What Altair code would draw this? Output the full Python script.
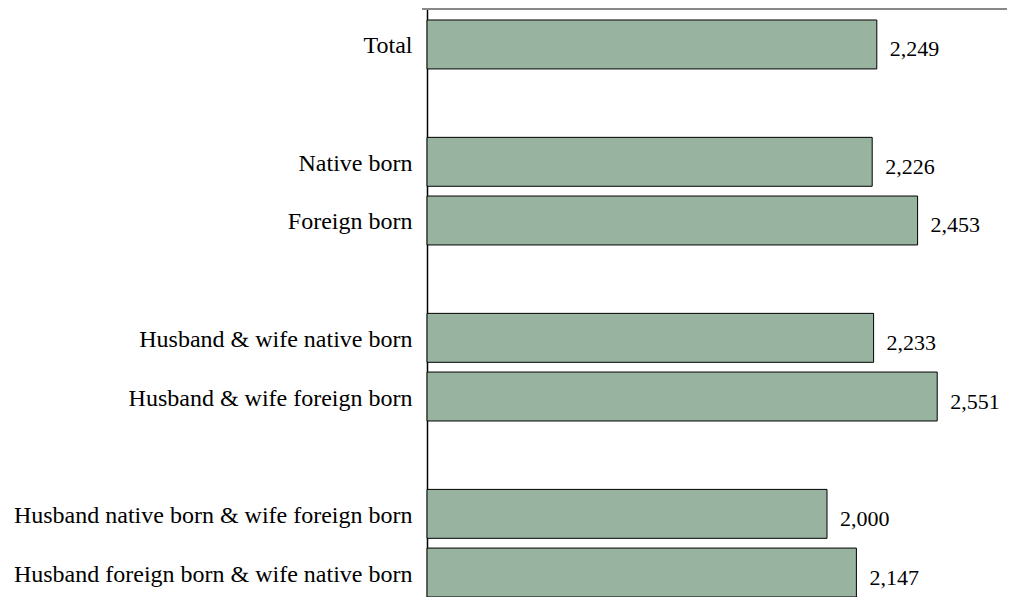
import altair as alt
import pandas as pd

# Categories in display order (blank entries are the gaps between groups)
order = [
    "Total",
    " ",
    "Native born",
    "Foreign born",
    "  ",
    "Husband & wife native born",
    "Husband & wife foreign born",
    "   ",
    "Husband native born & wife foreign born",
    "Husband foreign born & wife native born",
]
categories = [
    "Total",
    "Native born",
    "Foreign born",
    "Husband & wife native born",
    "Husband & wife foreign born",
    "Husband native born & wife foreign born",
    "Husband foreign born & wife native born",
]
values = [2249, 2226, 2453, 2233, 2551, 2000, 2147]

df = pd.DataFrame({"category": categories, "value": values})

W, H = 580, 588
FONT = "Liberation Serif"

y_enc = alt.Y(
    "category:N",
    sort=order,
    scale=alt.Scale(domain=order, paddingInner=0.166, paddingOuter=0.0937, align=1),
    axis=alt.Axis(
        title=None,
        ticks=False,
        tickSize=0,
        labelPadding=15,
        labelOffset=2,
        labelFont=FONT,
        labelFontSize=24,
        labelColor="black",
        labelLimit=600,
        domainColor="black",
        domainWidth=1.5,
        grid=False,
    ),
)
x_enc = alt.X("value:Q", scale=alt.Scale(domain=[0, 2900], nice=False), axis=None)

bars = alt.Chart(df).mark_bar(
    color="#98B4A0", stroke="black", strokeWidth=1
).encode(x=x_enc, y=y_enc)

labels = alt.Chart(df).mark_text(
    align="left", baseline="middle", dx=13, dy=5, font=FONT, fontSize=22, color="black"
).encode(x=x_enc, y=y_enc, text=alt.Text("value:Q", format=","))

top_line = alt.Chart(pd.DataFrame({"v": [0]})).mark_rule(
    color="#888888", strokeWidth=2
).encode(x=alt.value(-5), x2=alt.value(W), y=alt.value(0))

chart = (
    alt.layer(bars, labels, top_line)
    .properties(
        width=W,
        height=H,
        autosize=alt.AutoSizeParams(type="none"),
        padding={"left": 419, "top": 1, "right": 0, "bottom": 0},
    )
    .configure_view(stroke=None)
    .configure(background="white")
)

chart.save("out.html", embed_options={"renderer": "svg", "actions": False})
